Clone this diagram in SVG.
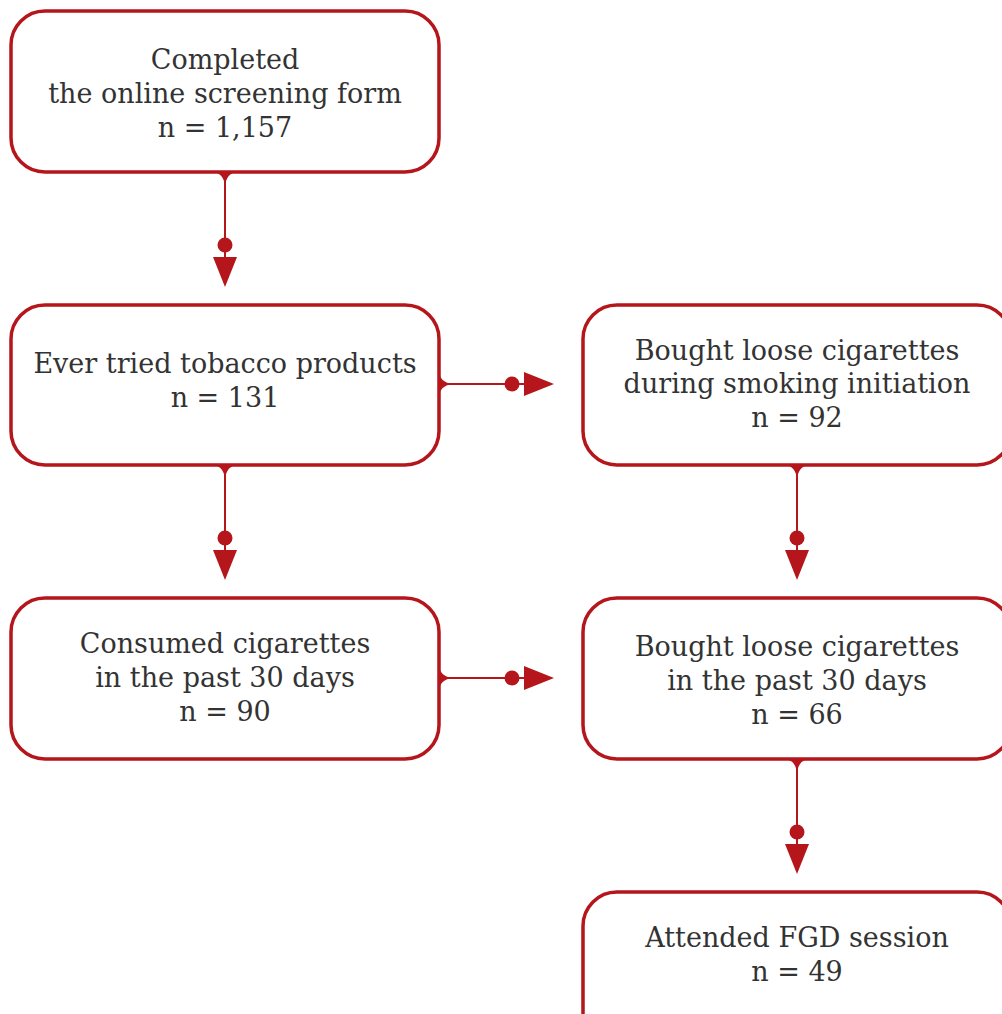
<svg xmlns="http://www.w3.org/2000/svg" width="1002" height="1014" viewBox="0 0 1002 1014">
<style>
.box{fill:#fff;stroke:#b5161b;stroke-width:3.5}
.t{font-family:"DejaVu Serif","Liberation Serif",serif;font-size:27px;fill:#333;text-anchor:middle}
.ln{stroke:#b5161b;stroke-width:2;fill:none}
.fl{fill:#b5161b}
</style>
<defs>
<g id="vconn">
<path class="fl" d="M-12,0 C-5,1 -1,5 0,14 C1,5 5,1 12,0 Z"/>
<line class="ln" x1="0" y1="0" x2="0" y2="88"/>
<circle class="fl" cx="0" cy="73" r="7.5"/>
<path class="fl" d="M-12,85 L12,85 L0,115 Z"/>
</g>
<g id="hconn">
<path class="fl" d="M0,-12 C1,-5 5,-1 14,0 C5,1 1,5 0,12 Z"/>
<line class="ln" x1="0" y1="0" x2="88" y2="0"/>
<circle class="fl" cx="73" cy="0" r="7.5"/>
<path class="fl" d="M85,-12 L85,12 L115,0 Z"/>
</g>
</defs>
<g id="connectors">
<use href="#vconn" x="225" y="172"/>
<use href="#vconn" x="225" y="465"/>
<use href="#vconn" x="797" y="465"/>
<use href="#vconn" x="797" y="759"/>
<use href="#hconn" x="439" y="384"/>
<use href="#hconn" x="439" y="678"/>
</g>
<g id="n1"><rect class="box" x="11" y="11" width="428" height="161" rx="34"/>
<text class="t" x="225" y="69">Completed</text><text class="t" x="225" y="103">the online screening form</text><text class="t" x="225" y="137">n = 1,157</text></g>
<g id="n2"><rect class="box" x="11" y="305" width="428" height="160" rx="34"/>
<text class="t" x="225" y="373">Ever tried tobacco products</text><text class="t" x="225" y="407">n = 131</text></g>
<g id="n3"><rect class="box" x="583" y="305" width="428" height="160" rx="34"/>
<text class="t" x="797" y="360">Bought loose cigarettes</text><text class="t" x="797" y="393">during smoking initiation</text><text class="t" x="797" y="427">n = 92</text></g>
<g id="n4"><rect class="box" x="11" y="598" width="428" height="161" rx="34"/>
<text class="t" x="225" y="653">Consumed cigarettes</text><text class="t" x="225" y="687">in the past 30 days</text><text class="t" x="225" y="721">n = 90</text></g>
<g id="n5"><rect class="box" x="583" y="598" width="428" height="161" rx="34"/>
<text class="t" x="797" y="656">Bought loose cigarettes</text><text class="t" x="797" y="690">in the past 30 days</text><text class="t" x="797" y="724">n = 66</text></g>
<g id="n6"><rect class="box" x="583" y="892" width="428" height="161" rx="34"/>
<text class="t" x="797" y="947">Attended FGD session</text><text class="t" x="797" y="981">n = 49</text></g>
</svg>
